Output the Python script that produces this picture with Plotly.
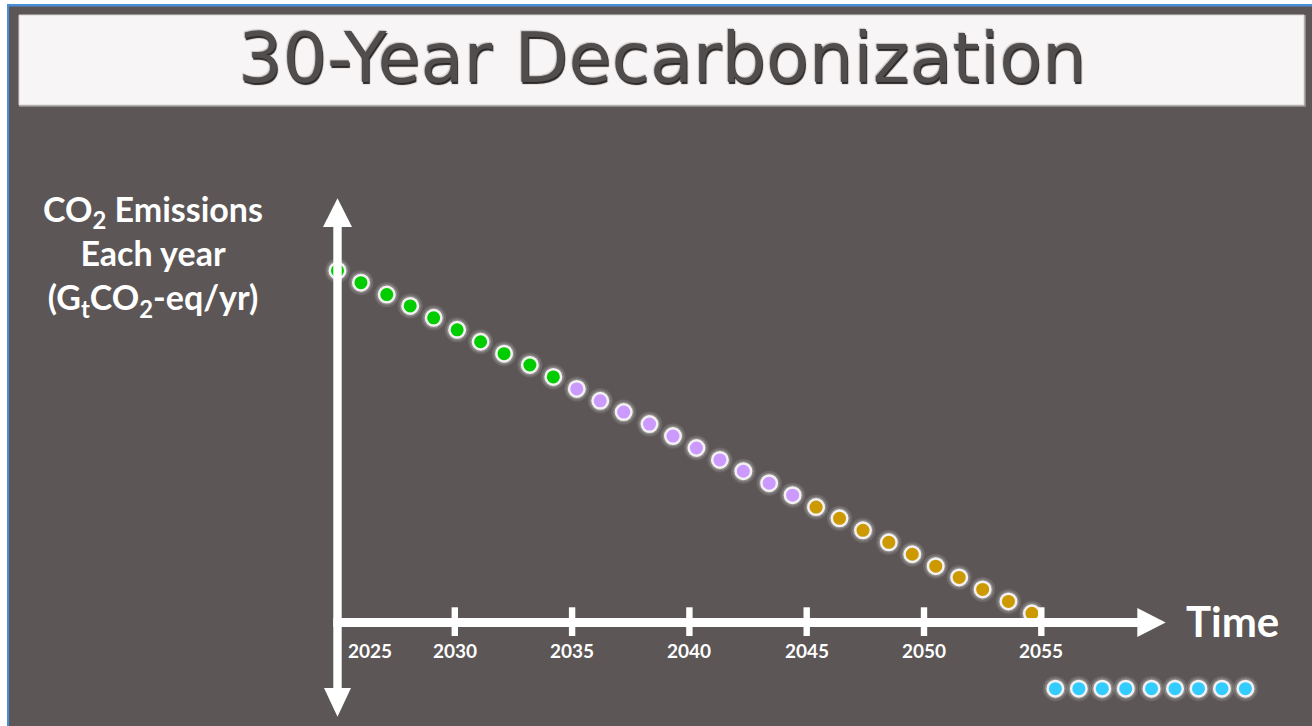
import plotly.graph_objects as go

# ---------------- data ----------------
green_years = [2025.0, 2026.0, 2027.1, 2028.1, 2029.1, 2030.1, 2031.1, 2032.1, 2033.2, 2034.2]
green_vals = [50.0, 48.3, 46.6, 45.0, 43.3, 41.6, 39.9, 38.2, 36.6, 34.9]
purple_years = [2035.2, 2036.2, 2037.2, 2038.3, 2039.3, 2040.3, 2041.3, 2042.3, 2043.4, 2044.4]
purple_vals = [33.2, 31.5, 29.9, 28.2, 26.5, 24.8, 23.1, 21.5, 19.8, 18.1]
gold_years = [2045.4, 2046.4, 2047.4, 2048.5, 2049.5, 2050.5, 2051.5, 2052.5, 2053.6, 2054.6]
gold_vals = [16.4, 14.8, 13.1, 11.4, 9.7, 8.0, 6.4, 4.7, 3.0, 1.3]
cyan_years = [2055.6, 2056.6, 2057.6, 2058.6, 2059.7, 2060.7, 2061.7, 2062.7, 2063.7]
cyan_vals = [-9.4, -9.4, -9.4, -9.4, -9.4, -9.4, -9.4, -9.4, -9.4]
tick_years = [2025, 2030, 2035, 2040, 2045, 2050, 2055]
tick_labels = ["2025", "2030", "2035", "2040", "2045", "2050", "2055"]

TITLE = "30-Year Decarbonization"
Y_LABEL_LINES = ["CO<sub>2</sub> Emissions", "Each year", "(G<sub>t</sub>CO<sub>2</sub>-eq/yr)"]
X_LABEL = "Time"

# ---------------- geometry (pixel <-> data) ----------------
W, H = 1312, 726
X0_PX, PX_PER_YEAR = 337.5, 23.46
Y0_PX, PX_PER_UNIT = 622.5, 7.036


def xd(px):
    return 2025 + (px - X0_PX) / PX_PER_YEAR


def yd(py):
    return (Y0_PX - py) / PX_PER_UNIT


def dx(px):
    return px / PX_PER_YEAR


def dy(px):
    return px / PX_PER_UNIT


BG = "#5c5656"
WHITE = "#ffffff"
BLUE = "#4a8fd6"

fig = go.Figure()


def dots(xs, ys, color):
    fig.add_trace(go.Scatter(
        x=xs, y=ys, mode="markers", hoverinfo="skip", showlegend=False,
        marker=dict(size=25, color="rgba(255,255,255,0.12)", line=dict(width=0))))
    fig.add_trace(go.Scatter(
        x=xs, y=ys, mode="markers", hoverinfo="skip", showlegend=False,
        marker=dict(size=21, color="rgba(255,255,255,0.22)", line=dict(width=0))))
    fig.add_trace(go.Scatter(
        x=xs, y=ys, mode="markers", showlegend=False,
        marker=dict(size=15.5, color=color, line=dict(width=2.5, color="#f3f1f1"))))


shapes = []
# outer frame: blue border + dark slide background
shapes.append(dict(type="rect", xref="paper", yref="paper", x0=7 / W, x1=1, y0=0, y1=1 - 4 / H,
                   fillcolor=BLUE, line=dict(width=0), layer="below"))
shapes.append(dict(type="rect", xref="paper", yref="paper", x0=9 / W, x1=1, y0=0, y1=1 - 6.5 / H,
                   fillcolor=BG, line=dict(width=0), layer="below"))
# title box (with a subtle shadow)
shapes.append(dict(type="rect", xref="paper", yref="paper", x0=19 / W, x1=1306 / W,
                   y0=1 - 107 / H, y1=1 - 15 / H, fillcolor="#8f8989", line=dict(width=0), layer="below"))
shapes.append(dict(type="rect", xref="paper", yref="paper", x0=19 / W, x1=1304 / W,
                   y0=1 - 105 / H, y1=1 - 15 / H, fillcolor="#f7f5f5",
                   line=dict(width=1, color="#d8d4d4"), layer="below"))

# y axis (vertical double arrow)
shapes.append(dict(type="rect", xref="x", yref="y",
                   x0=2025 - dx(4.2), x1=2025 + dx(4.2), y0=yd(689), y1=yd(226),
                   fillcolor=WHITE, line=dict(width=0)))
shapes.append(dict(type="path", xref="x", yref="y", fillcolor=WHITE, line=dict(width=0),
                   path=f"M {2025 - dx(14.5)},{yd(227)} L {2025 + dx(14.5)},{yd(227)} L 2025,{yd(198.3)} Z"))
shapes.append(dict(type="path", xref="x", yref="y", fillcolor=WHITE, line=dict(width=0),
                   path=f"M {2025 - dx(13.5)},{yd(688)} L {2025 + dx(13.5)},{yd(688)} L 2025,{yd(716.7)} Z"))
# x axis (horizontal arrow)
shapes.append(dict(type="rect", xref="x", yref="y",
                   x0=2025 - dx(4.2), x1=xd(1138), y0=-dy(4.5), y1=dy(4.5),
                   fillcolor=WHITE, line=dict(width=0)))
shapes.append(dict(type="path", xref="x", yref="y", fillcolor=WHITE, line=dict(width=0),
                   path=f"M {xd(1137.3)},{dy(14.5)} L {xd(1137.3)},{-dy(14.5)} L {xd(1165.7)},0 Z"))
# tick marks
for t in tick_years[1:]:
    shapes.append(dict(type="rect", xref="x", yref="y",
                       x0=t - dx(3.2), x1=t + dx(3.2), y0=yd(636), y1=yd(607.3),
                       fillcolor=WHITE, line=dict(width=0)))

dots(green_years, green_vals, "#00cc00")
dots(purple_years, purple_vals, "#cc99ff")
dots(gold_years, gold_vals, "#cc9900")
dots(cyan_years, cyan_vals, "#33ccff")

annotations = []
# title with an embossed look
annotations.append(dict(x=662 / W, y=1 - 58 / H, xref="paper", yref="paper", text=TITLE,
                        showarrow=False, xanchor="center", yanchor="middle",
                        font=dict(family="DejaVu Sans", size=70, color="#524d4d",
                                  shadow="1px 2px 1px #2a2626, -1px -1px 1px #c8c4c4")))
# y label (one multi-line text)
annotations.append(dict(x=153 / W, y=1 - 255 / H, xref="paper", yref="paper",
                        text="<br>".join(f"<b>{line}</b>" for line in Y_LABEL_LINES),
                        showarrow=False, xanchor="center", yanchor="middle", align="center",
                        font=dict(family="Lato", size=34, color=WHITE)))
# x label
annotations.append(dict(x=xd(1232.5), y=yd(621), xref="x", yref="y", text=f"<b>{X_LABEL}</b>",
                        showarrow=False, xanchor="center", yanchor="middle",
                        font=dict(family="Lato", size=42, color=WHITE)))
# tick labels
for t, lab in zip(tick_years, tick_labels):
    annotations.append(dict(x=t, y=yd(650), xref="x", yref="y", text=f"<b>{lab}</b>",
                            showarrow=False, xanchor="center", yanchor="middle",
                            xshift=32 if t == tick_years[0] else 0,
                            font=dict(family="Lato", size=19, color=WHITE)))

fig.update_layout(
    width=W, height=H,
    margin=dict(l=0, r=0, t=0, b=0),
    paper_bgcolor="#ffffff", plot_bgcolor="rgba(0,0,0,0)",
    xaxis=dict(range=[xd(0), xd(W)], visible=False, showgrid=False, zeroline=False, fixedrange=True),
    yaxis=dict(range=[yd(H), yd(0)], visible=False, showgrid=False, zeroline=False, fixedrange=True),
    shapes=shapes, annotations=annotations, showlegend=False,
)

fig.write_html("out.html", config={"displayModeBar": False})
